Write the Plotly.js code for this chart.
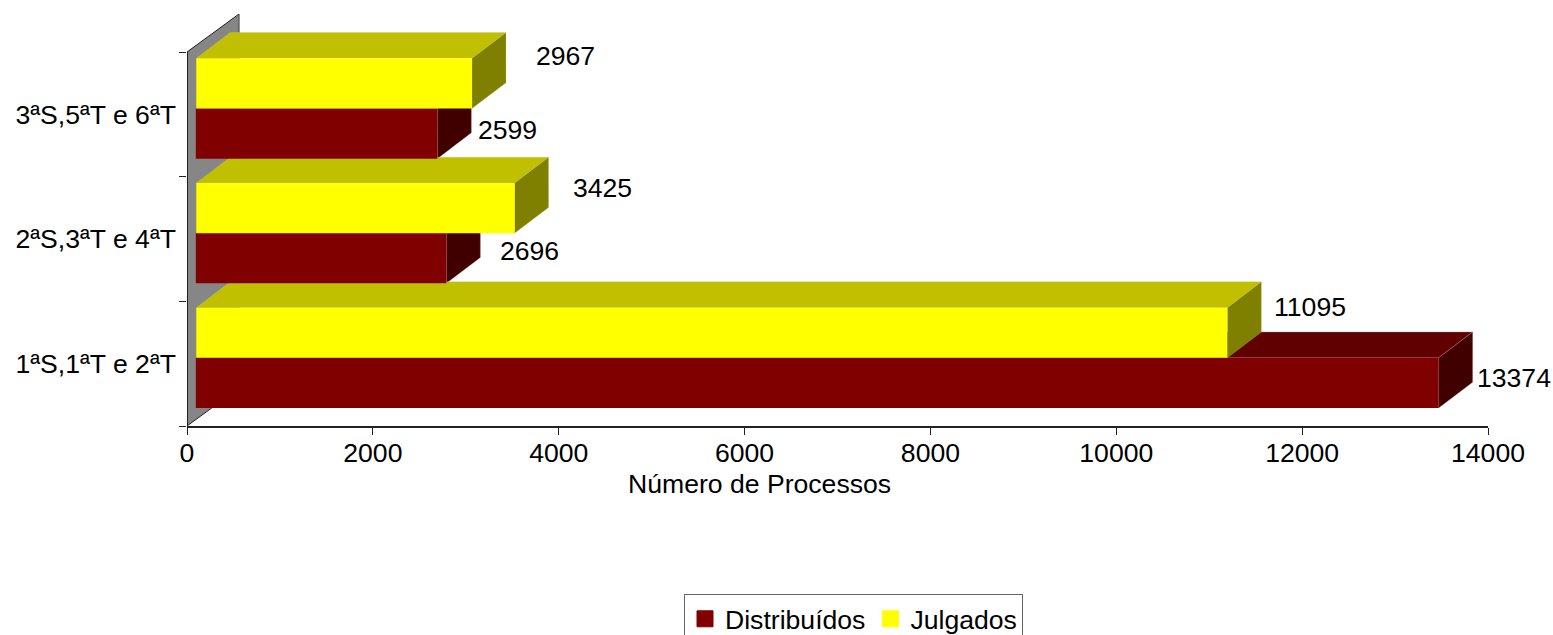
<!DOCTYPE html>
<html><head><meta charset="utf-8">
<script src="https://cdn.plot.ly/plotly-3.0.1.min.js"></script>
<style>html,body{margin:0;padding:0;background:#fff;overflow:hidden}</style>
</head><body><div id="chart" style="width:1553px;height:635px"></div>
<script>
const categories = ['1ªS,1ªT e 2ªT', '2ªS,3ªT e 4ªT', '3ªS,5ªT e 6ªT'];
const distribuidos = [13374, 2696, 2599];
const julgados = [11095, 3425, 2967];
const xTicks = [0, 2000, 4000, 6000, 8000, 10000, 12000, 14000];

const FONT = 'Liberation Sans, Arial, sans-serif';
const FS = 26.6;
const xMax = 14000, yMax = 3.305;
const barW = 0.403, gapD = 0.346, gapJ = 0.748, baseD = 95, baseJ = 100;
const depthX = 366, depthY = 0.207;    // bar depth
const wallX = 560, wallY = 0.305;      // wall depth

const poly = pts => 'M' + pts.map(p => p[0] + ',' + p[1]).join('L') + 'Z';
const face = (pts, color, edge) => ({type:'path', xref:'x', yref:'y', layer:'below', path:poly(pts),
  fillcolor:color, line:{color:edge, width:0.6}});

const shapes = [];
// wall
shapes.push({type:'path', xref:'x', yref:'y', layer:'below',
  path:poly([[0,0],[0,3],[wallX,3+wallY],[wallX,wallY]]), fillcolor:'#868686', line:{width:0}});
[[[0,3],[wallX,3+wallY]], [[0,0],[wallX,wallY]]].forEach(s => shapes.push({type:'line', xref:'x', yref:'y', layer:'below',
  x0:s[0][0], y0:s[0][1], x1:s[1][0], y1:s[1][1], line:{color:'#222', width:1}}));
shapes.push({type:'line', xref:'x', yref:'y', layer:'below', x0:wallX, y0:wallY, x1:wallX, y1:3+wallY, line:{color:'#444', width:1}});
// bar tops and sides, back to front
for (let i = categories.length - 1; i >= 0; i--) {
  [[distribuidos[i], baseD, gapD, '#600000', '#400000', 'rgba(170,140,140,0.6)'],
   [julgados[i], baseJ, gapJ, '#C0C000', '#808000', 'rgba(200,200,120,0.5)']].forEach(([v,b,g,top,side,edge]) => {
    const y0 = i + g - barW/2, y1 = i + g + barW/2, e = b + v;
    shapes.push(face([[b,y1],[e,y1],[e+depthX,y1+depthY],[b+depthX,y1+depthY]], top, edge));
    shapes.push(face([[e,y0],[e,y1],[e+depthX,y1+depthY],[e+depthX,y0+depthY]], side, edge));
  });
}
// left axis line
shapes.push({type:'line', xref:'x', yref:'y', x0:0, y0:0, x1:0, y1:3, line:{color:'#222', width:2}});

const idx = categories.map((c,i) => i);
const labelOffsets = {
  d: [[75,-5],[83,-7],[70,-4]],
  j: [[83,-26],[88,-20],[93,-27]]
};
const annotations = [];
idx.forEach(i => {
  annotations.push({x:baseD+distribuidos[i], y:i+gapD, text:String(distribuidos[i]), showarrow:false,
    xshift:labelOffsets.d[i][0], yshift:-labelOffsets.d[i][1], font:{family:FONT,size:FS,color:'#000'}});
  annotations.push({x:baseJ+julgados[i], y:i+gapJ, text:String(julgados[i]), showarrow:false,
    xshift:labelOffsets.j[i][0], yshift:-labelOffsets.j[i][1], font:{family:FONT,size:FS,color:'#000'}});
});
annotations.push({xref:'paper', yref:'paper', x:(759-187)/1301, y:(426-484)/412, xanchor:'center', yanchor:'middle',
  text:'Número de Processos', showarrow:false, font:{family:FONT,size:FS,color:'#000'}});

const traces = [
  {type:'bar', orientation:'h', name:'Distribuídos', x:distribuidos, base:baseD, y:idx.map(i=>i+gapD), width:barW,
   marker:{color:'#800000', line:{width:0}}, showlegend:false, hoverinfo:'x'},
  {type:'bar', orientation:'h', name:'Julgados', x:julgados, base:baseJ, y:idx.map(i=>i+gapJ), width:barW,
   marker:{color:'#FFFF00', line:{width:0}}, showlegend:false, hoverinfo:'x'},
  {type:'scatter', mode:'markers', name:'Distribuídos', x:[null], y:[null], marker:{symbol:'square', size:16, color:'#800000', line:{color:'#800000', width:1}}},
  {type:'scatter', mode:'markers', name:'Julgados', x:[null], y:[null], marker:{symbol:'square', size:16, color:'#FFFF00', line:{color:'#FFFF00', width:1}}}
];

const layout = {
  width:1553, height:635,
  margin:{l:187, r:65, t:14, b:209, pad:0, autoexpand:false},
  paper_bgcolor:'#fff', plot_bgcolor:'#fff',
  barmode:'overlay',
  font:{family:FONT, size:FS, color:'#000'},
  xaxis:{range:[0,xMax], tickvals:xTicks, ticktext:xTicks.map(String), ticks:'outside', ticklen:7, tickwidth:1, tickcolor:'#222',
    ticklabelstandoff:-5, showgrid:false, zeroline:false, showline:true, linecolor:'#222', linewidth:2,
    tickfont:{family:FONT,size:FS}},
  yaxis:{range:[0,yMax], tickvals:idx.map(i=>i+0.5), ticktext:categories, ticks:'', ticklen:0,
    ticklabelstandoff:10, showgrid:false, zeroline:false, showline:false, tickfont:{family:FONT,size:FS},
    minor:{tickvals:[0,1,2,3], ticks:'outside', ticklen:7, tickwidth:1, tickcolor:'#222', showgrid:false}},
  shapes, annotations,
  showlegend:true,
  legend:{orientation:'h', x:(684-187)/1301, xanchor:'left', y:(426-594)/412, yanchor:'top', borderwidth:1, bordercolor:'#666',
    bgcolor:'#fff', font:{family:FONT,size:FS}, traceorder:'normal', itemsizing:'trace', tracegroupgap:0}
};
Plotly.newPlot('chart', traces, layout, {displayModeBar:false, staticPlot:true});
</script></body></html>
